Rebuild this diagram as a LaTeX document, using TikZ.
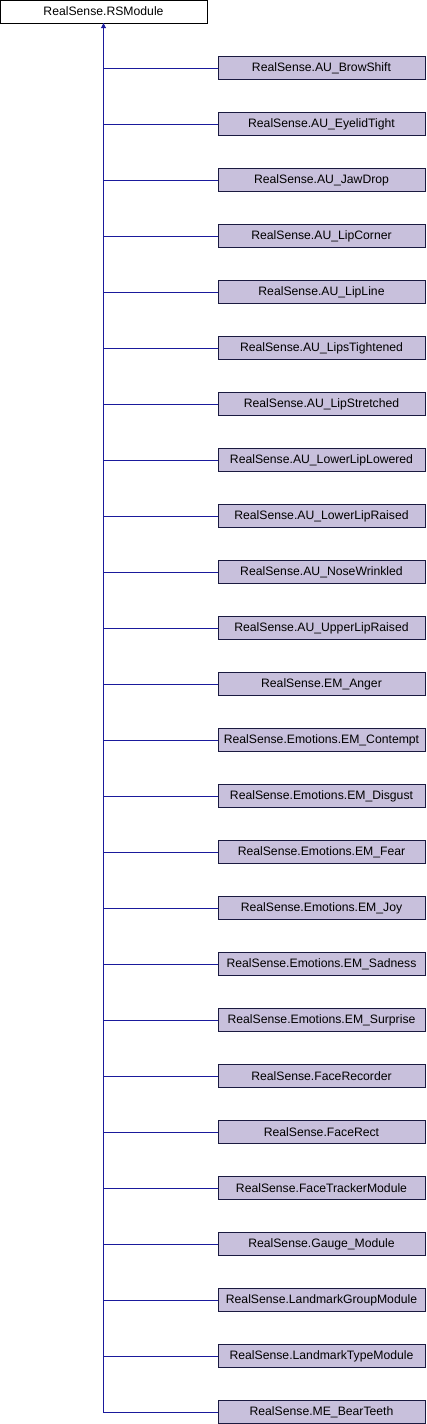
\documentclass[tikz,border=0pt]{standalone}
\usepackage{fontspec}
\setmainfont{Liberation Sans}
\usetikzlibrary{arrows.meta}
\definecolor{edgeColor}{HTML}{1A1A9C}
\definecolor{boxFill}{HTML}{C8C0DC}
\definecolor{boxLine}{HTML}{1A1A40}

\begin{document}
\begin{tikzpicture}[x=1pt, y=-1pt,
    classbox/.style={draw=boxLine, minimum width=207pt, minimum height=23pt,
        inner sep=0pt, font=\fontsize{12.2}{14}\selectfont},
    child/.style={classbox, fill=boxFill}]
    \useasboundingbox (0,0) rectangle (426,1424);
    % base class
    \node[classbox, fill=white, draw=black] (base) at (103.5,11.5) {RealSense.RSModule};
    % derived classes
    \foreach \name [count=\i from 0] in {AU\_BrowShift, AU\_EyelidTight, AU\_JawDrop,
        AU\_LipCorner, AU\_LipLine, AU\_LipsTightened, AU\_LipStretched,
        AU\_LowerLipLowered, AU\_LowerLipRaised, AU\_NoseWrinkled,
        AU\_UpperLipRaised, EM\_Anger, Emotions.EM\_Contempt,
        Emotions.EM\_Disgust, Emotions.EM\_Fear, Emotions.EM\_Joy,
        Emotions.EM\_Sadness, Emotions.EM\_Surprise, FaceRecorder, FaceRect,
        FaceTrackerModule, Gauge\_Module, LandmarkGroupModule,
        LandmarkTypeModule, ME\_BearTeeth}
    {
        \node[child] (c\i) at (321.5, 68+56*\i) {RealSense.\name};
        \draw[edgeColor, line width=0.9pt] (c\i.west) -| (base.south);
    }
    % arrow head on the base class
    \draw[edgeColor, line width=0.9pt, -{Triangle[length=5pt, width=5pt]}]
        (c24.west) -| (base.south);
\end{tikzpicture}
\end{document}
